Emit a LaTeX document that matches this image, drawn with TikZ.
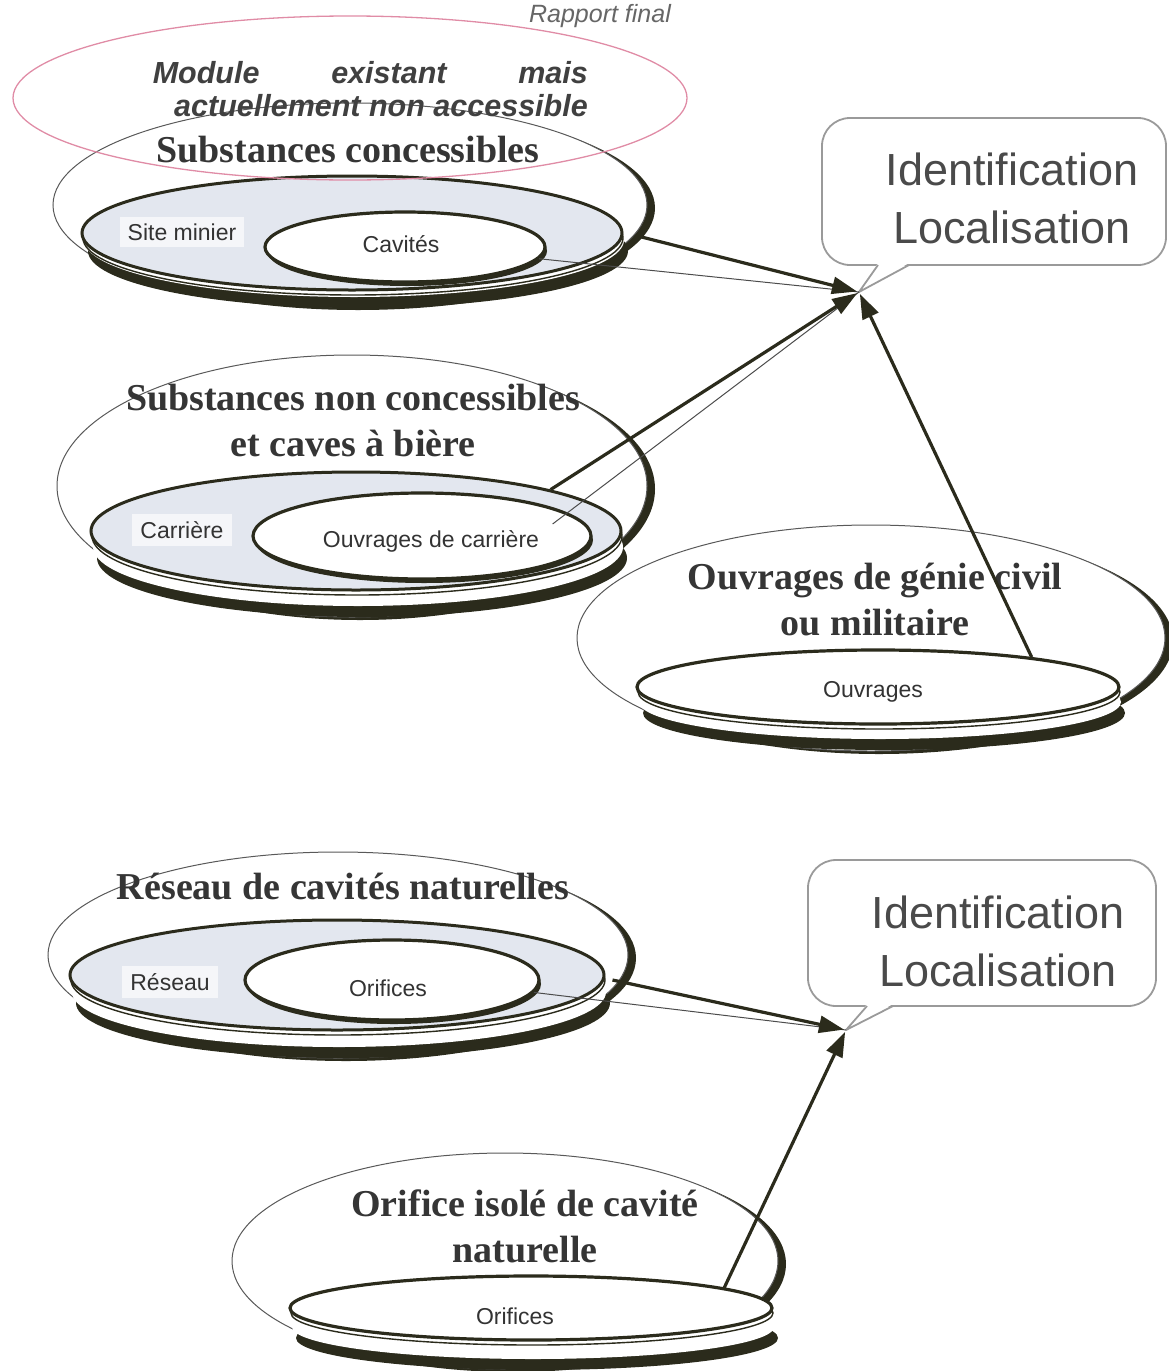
\documentclass[tikz,border=0pt]{standalone}
\usepackage{fontspec}
\setmainfont{Liberation Serif}
\setsansfont{Liberation Sans}
\usetikzlibrary{shapes.geometric,arrows.meta,calc}

\definecolor{dk}{HTML}{2B2B1C}
\definecolor{pinkl}{HTML}{E08CA6}
\definecolor{diskfill}{HTML}{E3E7EF}
\definecolor{lblfill}{HTML}{F5F6F9}
\definecolor{ttl}{HTML}{353535}
\definecolor{cgray}{HTML}{9A9A9A}
\definecolor{ctext}{HTML}{4A4A4A}

% cx, cy, rx, ry, rim depth
\newcommand{\platerim}[5]{%
  \fill[dk] ({#1+6},{#2+#5}) ellipse [x radius=#3pt, y radius=#4pt];
  \fill[white] ({#1+2},{#2+#5-11}) ellipse [x radius=#3pt, y radius=#4pt];
  \draw[dk, line width=1.4pt, fill=white] ({#1+1},{#2+5}) ellipse [x radius=#3pt, y radius=#4pt];
}

\begin{document}
\begin{tikzpicture}[x=1pt,y=-1pt,
  outerell/.style={ellipse, draw=black!65, line width=1pt, fill=white, inner sep=0pt},
  diskell/.style={ellipse, draw=dk, line width=3pt, fill=diskfill, inner sep=0pt},
  innerell/.style={ellipse, draw=dk, line width=3.2pt, fill=white, inner sep=0pt},
  titletxt/.style={font=\fontsize{38}{46}\selectfont\bfseries, text=ttl, align=center, inner sep=0pt},
  lbl/.style={font=\sffamily\fontsize{23}{26}\selectfont, text=black!80, inner sep=0pt},
  lblbox/.style={lbl, fill=lblfill, inner xsep=8pt, inner ysep=7pt},
  callbox/.style={rectangle, draw=cgray, line width=1.8pt, rounded corners=28pt, fill=white, inner sep=0pt},
  calltxt/.style={font=\sffamily\fontsize{45}{58}\selectfont, text=ctext, align=center, inner sep=0pt},
  thickarr/.style={draw=dk, line width=3.2pt, -{Triangle[length=25pt,width=17pt]}, shorten >=2pt},
  thinline/.style={draw=black!70, line width=1pt},
  shadowfill/.style={fill=dk},
]
\useasboundingbox (0,0) rectangle (1168,1371);

% header
\node[font=\sffamily\itshape\fontsize{25}{28}\selectfont, text=black!60, anchor=base, inner sep=0pt] (rap) at (600,22) {Rapport final};

% ---------- Group 3 : Ouvrages de genie civil ----------
\fill[shadowfill] (879,641) ellipse [x radius=294pt, y radius=113pt];
\node[outerell, minimum width=588pt, minimum height=226pt] (out3) at (871,638) {};
\platerim{878}{687}{241}{37}{26}
\node[innerell, minimum width=482pt, minimum height=74pt] (ouv) at (878,687) {};
\node[lbl] (ouvt) at (873,692) {Ouvrages};
\node[titletxt] (t3) at (875,600) {Ouvrages de génie civil\\ou militaire};

% ---------- Group 1 : Substances concessibles ----------
\fill[shadowfill] (358,208) ellipse [x radius=297pt, y radius=102pt];
\node[outerell, minimum width=594pt, minimum height=204pt] (out1) at (350,205) {};
\platerim{352}{233}{270}{57}{18}
\node[diskell, minimum width=540pt, minimum height=114pt] (disk1) at (352,233) {};
\fill[shadowfill] (407,251) ellipse [x radius=140pt, y radius=35pt];
\node[innerell, minimum width=280pt, minimum height=70pt] (cav) at (405,247) {};
\node[lbl] (cavt) at (401,244) {Cavités};
\node[lblbox] (site) at (182,232) {Site minier};
\node[titletxt] (t1) at (348,150) {Substances concessibles};

% pink "module" ellipse
\node[ellipse, draw=pinkl, line width=1.3pt, inner sep=0pt, minimum width=674pt, minimum height=164pt] (modell) at (350,98) {};
\node[font=\sffamily\bfseries\itshape\fontsize{30.5}{33}\selectfont, text=black!75, align=right, inner sep=0pt, anchor=east] (modt) at (588,89) {\makebox[435pt][s]{Module existant mais}\\actuellement non accessible};

% ---------- Group 2 : Substances non concessibles ----------
\fill[shadowfill] (360,489) ellipse [x radius=295pt, y radius=131pt];
\node[outerell, minimum width=590pt, minimum height=262pt] (out2) at (352,486) {};
\platerim{356}{531}{265}{59}{27}
\node[diskell, minimum width=530pt, minimum height=118pt] (disk2) at (356,531) {};
\fill[shadowfill] (424,540) ellipse [x radius=169pt, y radius=43pt];
\node[innerell, minimum width=338pt, minimum height=86pt] (ocar) at (422,536) {};
\node[lbl] (ocart) at (431,541) {Ouvrages de carrière};
\node[lblbox] (carr) at (182,530) {Carrière};
\node[titletxt] (t2) at (353,420) {Substances non concessibles\\et caves à bière};

% ---------- Group 4 : Reseau de cavites naturelles ----------
\fill[shadowfill] (346,958) ellipse [x radius=290pt, y radius=103pt];
\node[outerell, minimum width=580pt, minimum height=206pt] (out4) at (338,955) {};
\platerim{337}{975}{267}{55}{28}
\node[diskell, minimum width=534pt, minimum height=110pt] (disk4) at (337,975) {};
\fill[shadowfill] (394,984) ellipse [x radius=147pt, y radius=40pt];
\node[innerell, minimum width=294pt, minimum height=80pt] (orif) at (392,980) {};
\node[lbl] (orift) at (388,988) {Orifices};
\node[lblbox] (res) at (170,982) {Réseau};
\node[titletxt] (t4) at (343,887) {Réseau de cavités naturelles};

% ---------- Group 5 : Orifice isole ----------
\fill[shadowfill] (513,1264) ellipse [x radius=273pt, y radius=108pt];
\node[outerell, minimum width=546pt, minimum height=216pt] (out5) at (505,1261) {};
\platerim{531}{1308}{241}{32}{30}
\node[innerell, minimum width=482pt, minimum height=64pt] (orif2) at (531,1308) {};
\node[lbl] (orif2t) at (515,1316) {Orifices};
\node[titletxt] (t5) at (525,1226) {Orifice isolé de cavité\\naturelle};

% ---------- Callouts ----------
\coordinate (tipA) at (859,292);
\node[callbox, minimum width=344pt, minimum height=147pt] (cb1) at (994,191.5) {};
\fill[white] (878,263) -- (tipA) -- (909,263) -- cycle;
\draw[cgray, line width=1.8pt, line join=round] (878,265) -- (tipA) -- (909,265);
\node[calltxt] (id1) at (1012,198) {Identification\\Localisation};

\coordinate (tipB) at (846,1030);
\node[callbox, minimum width=348pt, minimum height=146pt] (cb2) at (982,933) {};
\fill[white] (867,1004) -- (tipB) -- (893,1004) -- cycle;
\draw[cgray, line width=1.8pt, line join=round] (867,1006) -- (tipB) -- (893,1006);
\node[calltxt] (id2) at (998,941) {Identification\\Localisation};

% ---------- Connectors ----------
\draw[thinline] (cav.-5) -- (tipA);
\draw[thickarr] ($(disk1.east)+(18,4)$) -- (tipA);
\draw[thinline] ($(ocar.east)+(-40,-12)$) -- (tipA);
\draw[thickarr] (disk2.12) -- (tipA);
\draw[thickarr] (ouv.11) -- (tipA);

\draw[thinline] (orif.-5) -- (tipB);
\draw[thickarr] ($(disk4.east)+(7,5)$) -- (tipB);
\draw[thickarr] (orif2.6) -- (tipB);
\end{tikzpicture}
\end{document}
